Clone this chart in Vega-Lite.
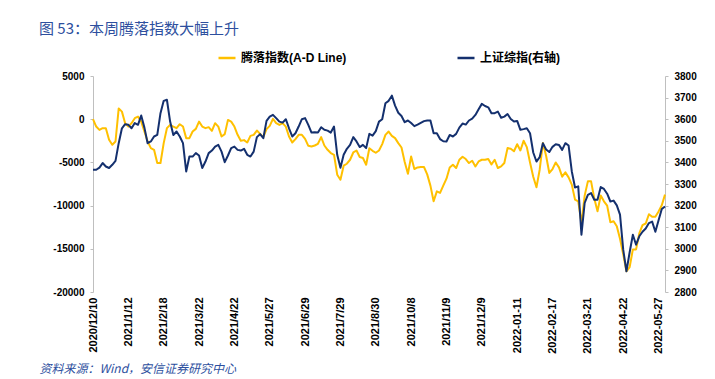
{
"$schema": "https://vega.github.io/schema/vega-lite/v6.json",
"width": 572,
"height": 216,
"autosize": {"type": "none"},
"padding": {"left": 93, "top": 76, "right": 50, "bottom": 87},
"config": {"view": {"stroke": null}, "font": "Liberation Sans, Noto Sans CJK SC"},
"title": {"text": "图 53：本周腾落指数大幅上升", "anchor": "start", "frame": "group", "dx": -54, "dy": -7, "fontSize": 15, "fontWeight": "normal", "color": "#2D4F9E", "font": "Noto Sans CJK SC"},
"data": {"values": [
{"date":"2020/12/10","ad":0,"sh":3366},
{"date":"2020/12/14","ad":-853,"sh":3366},
{"date":"2020/12/16","ad":-1234,"sh":3376},
{"date":"2020/12/18","ad":-1038,"sh":3397},
{"date":"2020/12/22","ad":-1038,"sh":3381},
{"date":"2020/12/24","ad":-2387,"sh":3374},
{"date":"2020/12/28","ad":-2964,"sh":3389},
{"date":"2020/12/30","ad":-2583,"sh":3407},
{"date":"2021/1/4","ad":1250,"sh":3489},
{"date":"2021/1/6","ad":876,"sh":3558},
{"date":"2021/1/8","ad":-461,"sh":3577},
{"date":"2021/1/12","ad":-853,"sh":3574},
{"date":"2021/1/14","ad":-461,"sh":3558},
{"date":"2021/1/18","ad":115,"sh":3582},
{"date":"2021/1/20","ad":300,"sh":3574},
{"date":"2021/1/22","ad":-277,"sh":3617},
{"date":"2021/1/26","ad":-1430,"sh":3561},
{"date":"2021/1/28","ad":-2583,"sh":3489},
{"date":"2021/2/1","ad":-3344,"sh":3497},
{"date":"2021/2/3","ad":-3540,"sh":3520},
{"date":"2021/2/5","ad":-5073,"sh":3527},
{"date":"2021/2/9","ad":-5073,"sh":3628},
{"date":"2021/2/18","ad":-2767,"sh":3685},
{"date":"2021/2/22","ad":-1038,"sh":3690},
{"date":"2021/2/24","ad":-657,"sh":3589},
{"date":"2021/2/26","ad":-853,"sh":3527},
{"date":"2021/3/2","ad":-1038,"sh":3543},
{"date":"2021/3/4","ad":-577,"sh":3520},
{"date":"2021/3/8","ad":-853,"sh":3489},
{"date":"2021/3/10","ad":-2191,"sh":3358},
{"date":"2021/3/12","ad":-2191,"sh":3427},
{"date":"2021/3/16","ad":-1430,"sh":3427},
{"date":"2021/3/18","ad":-1118,"sh":3443},
{"date":"2021/3/22","ad":-277,"sh":3432},
{"date":"2021/3/24","ad":-853,"sh":3374},
{"date":"2021/3/26","ad":-1038,"sh":3404},
{"date":"2021/3/30","ad":-922,"sh":3443},
{"date":"2021/4/1","ad":-1349,"sh":3455},
{"date":"2021/4/6","ad":-461,"sh":3473},
{"date":"2021/4/8","ad":-853,"sh":3481},
{"date":"2021/4/12","ad":-2006,"sh":3450},
{"date":"2021/4/14","ad":-1730,"sh":3401},
{"date":"2021/4/16","ad":-81,"sh":3432},
{"date":"2021/4/20","ad":-277,"sh":3466},
{"date":"2021/4/22","ad":-853,"sh":3473},
{"date":"2021/4/26","ad":-1810,"sh":3458},
{"date":"2021/4/28","ad":-2502,"sh":3455},
{"date":"2021/4/30","ad":-2421,"sh":3463},
{"date":"2021/5/7","ad":-2698,"sh":3435},
{"date":"2021/5/11","ad":-1925,"sh":3427},
{"date":"2021/5/13","ad":-1810,"sh":3450},
{"date":"2021/5/17","ad":-1314,"sh":3517},
{"date":"2021/5/19","ad":-1695,"sh":3531},
{"date":"2021/5/21","ad":-2075,"sh":3512},
{"date":"2021/5/25","ad":-1153,"sh":3592},
{"date":"2021/5/27","ad":-772,"sh":3612},
{"date":"2021/5/31","ad":35,"sh":3620},
{"date":"2021/6/2","ad":-461,"sh":3605},
{"date":"2021/6/4","ad":-657,"sh":3589},
{"date":"2021/6/8","ad":-461,"sh":3584},
{"date":"2021/6/10","ad":-853,"sh":3600},
{"date":"2021/6/15","ad":-2006,"sh":3558},
{"date":"2021/6/17","ad":-2698,"sh":3520},
{"date":"2021/6/21","ad":-2306,"sh":3535},
{"date":"2021/6/23","ad":-1810,"sh":3566},
{"date":"2021/6/25","ad":-1810,"sh":3600},
{"date":"2021/6/29","ad":-2271,"sh":3605},
{"date":"2021/7/1","ad":-3078,"sh":3574},
{"date":"2021/7/5","ad":-3159,"sh":3538},
{"date":"2021/7/7","ad":-3044,"sh":3540},
{"date":"2021/7/9","ad":-2848,"sh":3538},
{"date":"2021/7/13","ad":-2075,"sh":3563},
{"date":"2021/7/15","ad":-3044,"sh":3551},
{"date":"2021/7/19","ad":-3540,"sh":3547},
{"date":"2021/7/21","ad":-3920,"sh":3538},
{"date":"2021/7/23","ad":-4116,"sh":3566},
{"date":"2021/7/27","ad":-6422,"sh":3435},
{"date":"2021/7/29","ad":-6999,"sh":3375},
{"date":"2021/8/2","ad":-5384,"sh":3435},
{"date":"2021/8/4","ad":-5154,"sh":3463},
{"date":"2021/8/6","ad":-4693,"sh":3481},
{"date":"2021/8/10","ad":-3851,"sh":3517},
{"date":"2021/8/12","ad":-3620,"sh":3497},
{"date":"2021/8/16","ad":-4381,"sh":3471},
{"date":"2021/8/18","ad":-4497,"sh":3481},
{"date":"2021/8/20","ad":-5269,"sh":3466},
{"date":"2021/8/24","ad":-3367,"sh":3532},
{"date":"2021/8/26","ad":-3655,"sh":3524},
{"date":"2021/8/30","ad":-3886,"sh":3545},
{"date":"2021/9/1","ad":-3620,"sh":3589},
{"date":"2021/9/3","ad":-2883,"sh":3600},
{"date":"2021/9/7","ad":-1810,"sh":3674},
{"date":"2021/9/9","ad":-1430,"sh":3685},
{"date":"2021/9/13","ad":-1925,"sh":3709},
{"date":"2021/9/15","ad":-2191,"sh":3663},
{"date":"2021/9/17","ad":-2767,"sh":3630},
{"date":"2021/9/23","ad":-3274,"sh":3615},
{"date":"2021/9/27","ad":-4958,"sh":3586},
{"date":"2021/9/29","ad":-6307,"sh":3594},
{"date":"2021/10/8","ad":-4312,"sh":3582},
{"date":"2021/10/12","ad":-5765,"sh":3568},
{"date":"2021/10/14","ad":-5580,"sh":3575},
{"date":"2021/10/18","ad":-5534,"sh":3583},
{"date":"2021/10/20","ad":-5534,"sh":3591},
{"date":"2021/10/22","ad":-6388,"sh":3594},
{"date":"2021/10/26","ad":-7690,"sh":3594},
{"date":"2021/10/28","ad":-9501,"sh":3535},
{"date":"2021/11/1","ad":-8348,"sh":3535},
{"date":"2021/11/3","ad":-8532,"sh":3508},
{"date":"2021/11/5","ad":-7690,"sh":3498},
{"date":"2021/11/9","ad":-6883,"sh":3497},
{"date":"2021/11/11","ad":-5580,"sh":3527},
{"date":"2021/11/15","ad":-5269,"sh":3520},
{"date":"2021/11/17","ad":-5650,"sh":3532},
{"date":"2021/11/19","ad":-4693,"sh":3561},
{"date":"2021/11/23","ad":-4347,"sh":3580},
{"date":"2021/11/25","ad":-4612,"sh":3575},
{"date":"2021/11/29","ad":-5073,"sh":3594},
{"date":"2021/12/1","ad":-4808,"sh":3603},
{"date":"2021/12/3","ad":-5465,"sh":3620},
{"date":"2021/12/7","ad":-4889,"sh":3646},
{"date":"2021/12/9","ad":-4693,"sh":3671},
{"date":"2021/12/13","ad":-4693,"sh":3661},
{"date":"2021/12/15","ad":-4612,"sh":3655},
{"date":"2021/12/17","ad":-5234,"sh":3628},
{"date":"2021/12/21","ad":-4693,"sh":3628},
{"date":"2021/12/23","ad":-5650,"sh":3635},
{"date":"2021/12/27","ad":-5465,"sh":3607},
{"date":"2021/12/29","ad":-5073,"sh":3612},
{"date":"2021/12/31","ad":-3344,"sh":3624},
{"date":"2022-01-05","ad":-3424,"sh":3601},
{"date":"2022-01-07","ad":-3713,"sh":3589},
{"date":"2022-01-11","ad":-2900,"sh":3592},
{"date":"2022-01-13","ad":-3620,"sh":3551},
{"date":"2022-01-17","ad":-2502,"sh":3554},
{"date":"2022-01-19","ad":-3228,"sh":3558},
{"date":"2022-01-21","ad":-5004,"sh":3535},
{"date":"2022-01-25","ad":-6653,"sh":3446},
{"date":"2022-01-27","ad":-7886,"sh":3404},
{"date":"2022-02-07","ad":-5846,"sh":3424},
{"date":"2022-02-09","ad":-2767,"sh":3489},
{"date":"2022-02-11","ad":-4231,"sh":3460},
{"date":"2022-02-15","ad":-6226,"sh":3448},
{"date":"2022-02-17","ad":-5765,"sh":3472},
{"date":"2022-02-21","ad":-5004,"sh":3484},
{"date":"2022-02-23","ad":-5580,"sh":3481},
{"date":"2022-02-25","ad":-6653,"sh":3458},
{"date":"2022-03-01","ad":-6157,"sh":3489},
{"date":"2022-03-03","ad":-6733,"sh":3478},
{"date":"2022-03-07","ad":-7575,"sh":3358},
{"date":"2022-03-09","ad":-9305,"sh":3284},
{"date":"2022-03-11","ad":-9501,"sh":3289},
{"date":"2022-03-15","ad":-11991,"sh":3065},
{"date":"2022-03-17","ad":-8843,"sh":3212},
{"date":"2022-03-21","ad":-7195,"sh":3250},
{"date":"2022-03-23","ad":-7195,"sh":3258},
{"date":"2022-03-25","ad":-9189,"sh":3227},
{"date":"2022-03-29","ad":-10654,"sh":3227},
{"date":"2022-03-31","ad":-8843,"sh":3286},
{"date":"2022-04-06","ad":-9501,"sh":3277},
{"date":"2022-04-08","ad":-9997,"sh":3255},
{"date":"2022-04-12","ad":-11922,"sh":3219},
{"date":"2022-04-14","ad":-11807,"sh":3223},
{"date":"2022-04-18","ad":-12384,"sh":3201},
{"date":"2022-04-20","ad":-13837,"sh":3158},
{"date":"2022-04-22","ad":-15646,"sh":2996},
{"date":"2022-04-26","ad":-17607,"sh":2896},
{"date":"2022-04-28","ad":-17111,"sh":2984},
{"date":"2022-05-05","ad":-15070,"sh":3065},
{"date":"2022-05-09","ad":-15070,"sh":3019},
{"date":"2022-05-11","ad":-13225,"sh":3058},
{"date":"2022-05-13","ad":-12268,"sh":3079},
{"date":"2022-05-17","ad":-12072,"sh":3094},
{"date":"2022-05-19","ad":-11000,"sh":3119},
{"date":"2022-05-23","ad":-11299,"sh":3126},
{"date":"2022-05-25","ad":-11299,"sh":3079},
{"date":"2022-05-27","ad":-10688,"sh":3132},
{"date":"2022-05-31","ad":-9962,"sh":3184},
{"date":"2022-06-02","ad":-8728,"sh":3196}
]},
"encoding": {
  "x": {"field": "date", "type": "ordinal", "sort": null, "scale": {"type": "point", "padding": 0},
    "axis": {"values": ["2020/12/10","2021/1/12","2021/2/18","2021/3/22","2021/4/22","2021/5/27","2021/6/29","2021/7/29","2021/8/30","2021/10/8","2021/11/9","2021/12/9","2022-01-11","2022-02-17","2022-03-21","2022-04-22","2022-05-27"],
      "labelAngle": -90, "labelFontSize": 11, "labelFontWeight": "bold", "labelColor": "#000000", "labelOverlap": false,
      "domain": false, "ticks": false, "labelPadding": 5,
      "title": "资料来源：Wind，安信证券研究中心", "titleAnchor": "start", "titleAlign": "left", "titleX": -54, "titleY": 80, "titleBaseline": "alphabetic",
      "titleFontStyle": "italic", "titleFontWeight": "normal", "titleFontSize": 12, "titleColor": "#2D4F9E", "titleFont": "Noto Sans CJK SC"}}
},
"layer": [
  {"mark": {"type": "line", "strokeWidth": 2, "strokeJoin": "round"},
   "encoding": {
     "y": {"field": "ad", "type": "quantitative", "scale": {"domain": [-20000, 5000], "nice": false, "zero": false},
       "axis": {"orient": "left", "values": [5000, 0, -5000, -10000, -15000, -20000], "grid": false, "domainColor": "#BFBFBF", "tickColor": "#BFBFBF", "tickSize": 3, "labelFontSize": 10, "labelFontWeight": "bold", "labelColor": "#000000", "labelPadding": 6, "title": null,
         "labelExpr": "datum.value < 0 ? '-' + format(-datum.value, 'd') : format(datum.value, 'd')"}},
     "color": {"datum": "腾落指数(A-D Line)", "type": "nominal",
       "scale": {"domain": ["腾落指数(A-D Line)", "上证综指(右轴)"], "range": ["#FFC000", "#14306E"]},
       "legend": {"orient": "none", "legendX": 124, "legendY": -28, "direction": "horizontal", "symbolType": "stroke", "symbolStrokeWidth": 2.5, "symbolSize": 289, "labelFontSize": 12, "labelFontWeight": "bold", "labelColor": "#000000", "columnPadding": 105, "title": null, "labelLimit": 300}}
   }},
  {"mark": {"type": "line", "strokeWidth": 2, "strokeJoin": "round"},
   "encoding": {
     "y": {"field": "sh", "type": "quantitative", "scale": {"domain": [2800, 3800], "nice": false, "zero": false},
       "axis": {"orient": "right", "values": [2800, 2900, 3000, 3100, 3200, 3300, 3400, 3500, 3600, 3700, 3800], "grid": false, "domainColor": "#BFBFBF", "tickColor": "#BFBFBF", "tickSize": 3, "labelFontSize": 10, "labelFontWeight": "bold", "labelColor": "#000000", "labelPadding": 6, "title": null, "format": "d"}},
     "color": {"datum": "上证综指(右轴)", "type": "nominal"}
   }}
],
"resolve": {"scale": {"y": "independent"}}
}
